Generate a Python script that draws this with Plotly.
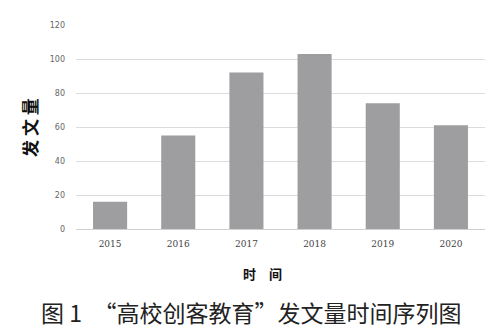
import plotly.graph_objects as go

years = ["2015", "2016", "2017", "2018", "2019", "2020"]
counts = [16, 55, 92, 103, 74, 61]
y_ticks = [0, 20, 40, 60, 80, 100, 120]

fig = go.Figure()
fig.add_trace(go.Bar(x=years, y=counts, marker=dict(color="#9e9ea0", line=dict(width=0)), width=0.5))

fig.update_layout(
    width=500, height=336,
    margin=dict(l=76, r=15, t=25, b=107),
    paper_bgcolor="white", plot_bgcolor="white",
    showlegend=False,
    font=dict(family="DejaVu Sans", size=9, color="#555"),
    xaxis=dict(type="category", showgrid=False, showline=False, ticks="",
               tickfont=dict(family="DejaVu Serif", size=9, color="#444"), ticklabelstandoff=8),
    yaxis=dict(range=[0, 120], tickvals=y_ticks, showgrid=True, gridcolor="#dcdcdc", gridwidth=1,
               zeroline=True, zerolinecolor="#d0d0d0", zerolinewidth=1, showline=False, ticks="",
               tickfont=dict(family="DejaVu Sans", size=8, color="#666"), ticklabelstandoff=10),
)

fig.add_annotation(text="<b>发 文 量</b>", x=-0.115, y=0.5, xref="paper", yref="paper", textangle=-90,
                   xanchor="center", yanchor="middle",
                   showarrow=False, font=dict(family="Noto Sans CJK SC", size=17, color="#111"))
fig.add_annotation(text="<b>时　间</b>", x=0.455, y=-0.22, xref="paper", yref="paper",
                   yanchor="middle", showarrow=False,
                   font=dict(family="Noto Sans CJK SC", size=13, color="#111"))
fig.add_annotation(text="图 1　“高校创客教育”发文量时间序列图", x=0.428, y=-0.405, xref="paper", yref="paper",
                   yanchor="middle", showarrow=False,
                   font=dict(family="Noto Sans CJK SC", size=23, color="#222"))

fig.write_html("out.html")
